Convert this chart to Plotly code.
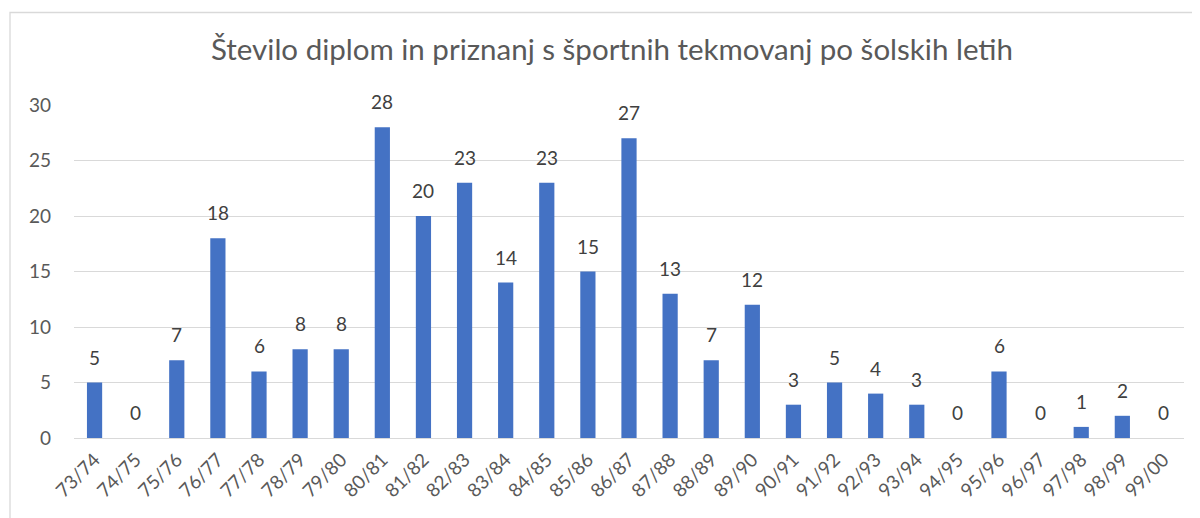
import plotly.graph_objects as go

categories = ["73/74", "74/75", "75/76", "76/77", "77/78", "78/79", "79/80", "80/81", "81/82",
              "82/83", "83/84", "84/85", "85/86", "86/87", "87/88", "88/89", "89/90", "90/91",
              "91/92", "92/93", "93/94", "94/95", "95/96", "96/97", "97/98", "98/99", "99/00"]
values = [5, 0, 7, 18, 6, 8, 8, 28, 20, 23, 14, 23, 15, 27, 13, 7, 12, 3, 5, 4, 3, 0, 6, 0, 1, 2, 0]
y_ticks = [0, 5, 10, 15, 20, 25, 30]

# page has an 8px body margin; work in figure pixels = screen pixels - 8
OFF = 8
W, H = 1200 - OFF, 518 - OFF
L, R, T, B = 74 - OFF, 16, 105 - OFF, 80
pw, ph = W - L - R, H - T - B

fig = go.Figure(go.Bar(
    x=categories, y=values,
    marker=dict(color="#4472C4", line=dict(width=0)),
    cliponaxis=False,
))

# data labels, placed from the data through the axes
for c, v in zip(categories, values):
    fig.add_annotation(x=c, y=v, xref="x", yref="y", text=str(v), showarrow=False,
                       yanchor="bottom", yshift=12,
                       font=dict(size=19, color="#404040", family="Lato"))

def px_x(p):
    return (p - OFF - L) / pw

def px_y(p):
    return (H - B - (p - OFF)) / ph

fig.add_shape(type="rect", xref="paper", yref="paper",
              x0=px_x(10), x1=px_x(1210), y0=px_y(530), y1=px_y(12.5),
              line=dict(color="#d9d9d9", width=1.3), fillcolor="rgba(0,0,0,0)", layer="below")

fig.update_layout(
    width=W, height=H,
    margin=dict(l=L, r=R, t=T, b=B, autoexpand=False),
    paper_bgcolor="white", plot_bgcolor="white",
    bargap=0.63,
    showlegend=False,
    font=dict(family="Lato", color="#595959"),
    title=dict(text="Število diplom in priznanj s športnih tekmovanj po šolskih letih",
               x=(612 - OFF) / W, xanchor="center", y=1 - (50 - OFF) / H, yanchor="middle",
               font=dict(size=29.5, color="#595959", family="Lato")),
    xaxis=dict(tickangle=-45, tickfont=dict(size=19, color="#595959"),
               showgrid=False, showline=False, ticks="", automargin=False,
               ticklabelstandoff=6),
    yaxis=dict(range=[0, 30], tickvals=y_ticks, tickfont=dict(size=19, color="#595959"),
               showgrid=True, gridcolor="#d9d9d9", gridwidth=1.3,
               zeroline=True, zerolinecolor="#d9d9d9", zerolinewidth=1.3,
               showline=False, ticks="", ticklabelstandoff=22, automargin=False),
)

fig.write_html("out.html")
